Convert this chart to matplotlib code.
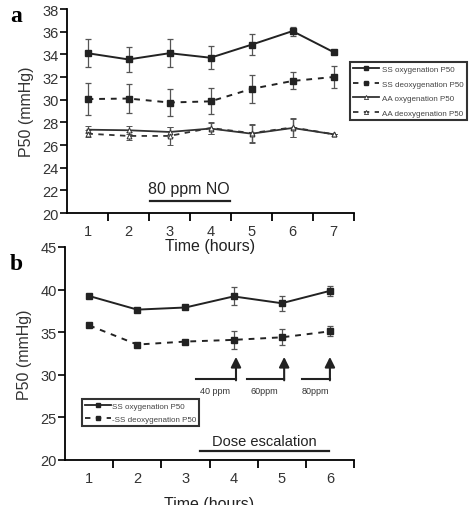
import matplotlib
matplotlib.use("Agg")
import matplotlib.pyplot as plt
from matplotlib.lines import Line2D
import numpy as np

# ---------------- Data ----------------
hours_a = [1, 2, 3, 4, 5, 6, 7]
ss_oxy_a = [34.1, 33.55, 34.1, 33.7, 34.85, 36.05, 34.2]
ss_oxy_a_err = [1.25, 1.1, 1.25, 1.0, 0.95, 0.4, 0.0]
ss_deoxy_a = [30.05, 30.1, 29.75, 29.85, 30.95, 31.65, 32.0]
ss_deoxy_a_err = [1.4, 1.3, 1.15, 1.15, 1.25, 0.75, 1.0]
aa_oxy_a = [27.35, 27.3, 27.15, 27.45, 27.0, 27.5, 26.95]
aa_oxy_a_err = [0.3, 0.35, 0.4, 0.5, 0.8, 0.8, 0.0]
aa_deoxy_a = [27.0, 26.8, 26.8, 27.5, 27.05, 27.55, 26.95]
aa_deoxy_a_err = [0.3, 0.35, 0.8, 0.5, 0.8, 0.8, 0.0]

hours_b = [1, 2, 3, 4, 5, 6]
ss_oxy_b = [39.25, 37.65, 37.9, 39.2, 38.4, 39.85]
ss_oxy_b_err = [0.0, 0.0, 0.0, 1.05, 0.9, 0.6]
ss_deoxy_b = [35.8, 33.55, 33.9, 34.1, 34.4, 35.1]
ss_deoxy_b_err = [0.0, 0.0, 0.0, 1.05, 0.93, 0.6]

legend_a = ["SS oxygenation P50", "SS deoxygenation P50",
            "AA oxygenation P50", "AA deoxygenation P50"]
legend_b = ["SS oxygenation P50", "-SS deoxygenation P50"]
dose_labels = ["40 ppm", "60ppm", "80ppm"]
dose_hours = [4, 5, 6]

# ---------------- Figure ----------------
plt.rcParams['font.family'] = ['Liberation Sans', 'DejaVu Sans']
fig = plt.figure(figsize=(4.72, 5.06), dpi=100)
W, H = 472, 506

def axes_px(l, r, t, b):
    return fig.add_axes([l / W, 1 - b / H, (r - l) / W, (b - t) / H])

ax1 = axes_px(67, 354, 10, 214)
ax2 = axes_px(65, 354, 248, 461)
ax2.patch.set_visible(False)

tick_col = '#333333'
def style(ax, xmax):
    for s in ['top', 'right']:
        ax.spines[s].set_visible(False)
    for s in ['left', 'bottom']:
        ax.spines[s].set_linewidth(1.3)
    ax.set_xlim(0.5, xmax + 0.5)
    ax.set_xticks(np.arange(1.5, xmax + 0.6, 1.0))
    ax.set_xticklabels([])
    ax.set_xticks(np.arange(1, xmax + 1), minor=True)
    ax.set_xticklabels([str(i) for i in range(1, xmax + 1)], minor=True)
    ax.tick_params(axis='x', which='major', direction='out', length=6, width=1.3)
    ax.tick_params(axis='x', which='minor', length=0, pad=8, labelsize=10.5, labelcolor=tick_col)
    ax.tick_params(axis='y', direction='out', length=5, width=1.2, labelsize=10.5, labelcolor=tick_col, pad=1)

ekw = dict(ecolor='#555555', elinewidth=0.9, capsize=2.5, capthick=0.9)

# Panel a
ax1.errorbar(hours_a, ss_oxy_a, yerr=ss_oxy_a_err, color='#222222', lw=1.4, ls='-',
             marker='s', ms=4, **ekw)
ax1.errorbar(hours_a, ss_deoxy_a, yerr=ss_deoxy_a_err, color='#222222', lw=1.4, ls=(0, (3, 3)),
             marker='s', ms=4, **ekw)
ax1.errorbar(hours_a, aa_oxy_a, yerr=aa_oxy_a_err, color='#333333', lw=1.3, ls='-',
             marker='^', ms=3.5, mfc='white', mew=0.7, **ekw)
ax1.errorbar(hours_a, aa_deoxy_a, yerr=aa_deoxy_a_err, color='#333333', lw=1.3, ls=(0, (3, 3)),
             marker='^', ms=3.5, mfc='white', mew=0.7, **ekw)
ax1.set_ylim(20, 38)
ax1.set_yticks(np.arange(20, 39, 2))
style(ax1, 7)
ax1.set_xlabel("Time (hours)", fontsize=11.5, labelpad=0, color='#222222')
ax1.set_ylabel("P50 (mmHg)", fontsize=11.5, color='#333333', labelpad=6)
ax1.text(3.48, 21.5, "80 ppm NO", ha='center', va='bottom', fontsize=11.5, color='#222222')
ax1.plot([2.52, 4.47], [21.1, 21.1], color='#222222', lw=1.6)

handles_a = [
    Line2D([], [], color='#222222', lw=1.3, ls='-', marker='s', ms=3.5),
    Line2D([], [], color='#222222', lw=1.3, ls=(0, (3, 3)), marker='s', ms=3.5),
    Line2D([], [], color='#333333', lw=1.3, ls='-', marker='^', ms=3, mfc='white', mew=0.6),
    Line2D([], [], color='#333333', lw=1.3, ls=(0, (3, 3)), marker='^', ms=3, mfc='white', mew=0.6),
]
leg1 = ax1.legend(handles_a, legend_a, loc='upper left', bbox_to_anchor=(0.985, 0.74),
                  fontsize=5.8, frameon=True, fancybox=False, borderpad=0.45,
                  handlelength=3.2, handletextpad=0.3, labelspacing=0.85, borderaxespad=0)
leg1.get_frame().set_edgecolor('black')
leg1.get_frame().set_linewidth(1.5)
for t in leg1.get_texts():
    t.set_color('#444444')

# Panel b
ax2.errorbar(hours_b, ss_oxy_b, yerr=ss_oxy_b_err, color='#222222', lw=1.4, ls='-',
             marker='s', ms=4, **ekw)
ax2.errorbar(hours_b, ss_deoxy_b, yerr=ss_deoxy_b_err, color='#222222', lw=1.4, ls=(0, (3, 3)),
             marker='s', ms=4, **ekw)
ax2.set_ylim(20, 45)
ax2.set_yticks(np.arange(20, 46, 5))
style(ax2, 6)
ax2.set_xlabel("Time (hours)", fontsize=11.5, labelpad=8, color='#222222')
ax2.set_ylabel("P50 (mmHg)", fontsize=11.5, color='#333333', labelpad=6)

starts = [3.22, 4.27, 5.42]
for h, s, lab in zip(dose_hours, starts, dose_labels):
    x_end = h + 0.05 if h < 6 else h
    ax2.plot([s, x_end], [29.5, 29.5], color='#222222', lw=1.5)
    ax2.annotate("", xy=(x_end, 32.1), xytext=(x_end, 29.35),
                 arrowprops=dict(arrowstyle='-|>,head_width=0.3,head_length=0.6',
                                 color='#222222', lw=1.5, shrinkA=0, shrinkB=0))
    ax2.text((s + x_end) / 2 - 0.02, 28.7, lab, ha='center', va='top', fontsize=6.5, color='#333333')

ax2.text(4.64, 21.45, "Dose escalation", ha='center', va='bottom', fontsize=10.5, color='#222222')
ax2.plot([3.3, 5.99], [21.05, 21.05], color='#222222', lw=1.6)

handles_b = [
    Line2D([], [], color='#222222', lw=1.3, ls='-', marker='s', ms=3.5),
    Line2D([], [], color='#222222', lw=1.3, ls=(0, (3, 3)), marker='s', ms=3.5),
]
leg2 = ax2.legend(handles_b, legend_b, loc='lower left', bbox_to_anchor=(0.059, 0.16),
                  fontsize=5.8, frameon=True, fancybox=False, borderpad=0.4,
                  handlelength=3.2, handletextpad=0.1, labelspacing=0.6, borderaxespad=0)
leg2.get_frame().set_edgecolor('black')
leg2.get_frame().set_linewidth(1.5)
for t in leg2.get_texts():
    t.set_color('#444444')

# Panel labels
fig.text(10 / W, 1 - 16 / H, "a", fontsize=17, fontweight='bold', va='center', ha='left',
         family=['Liberation Serif', 'DejaVu Serif'])
fig.text(10 / W, 1 - 264 / H, "b", fontsize=17, fontweight='bold', va='center', ha='left',
         family=['Liberation Serif', 'DejaVu Serif'])

fig.savefig("out.png", dpi=100)
